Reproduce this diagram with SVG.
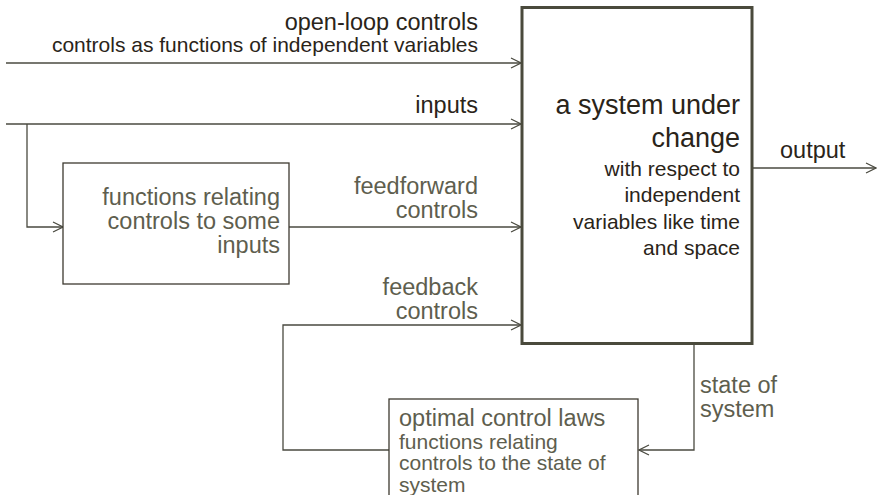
<svg xmlns="http://www.w3.org/2000/svg" width="877" height="495" viewBox="0 0 877 495">
<defs>
<marker id="arr" markerWidth="12" markerHeight="12" refX="11" refY="6" orient="auto" markerUnits="userSpaceOnUse">
<path d="M1,1 L11,6 L1,11" fill="none" stroke="#4a4a40" stroke-width="1.2"/>
</marker>
<style>
text{font-family:"Liberation Sans",Arial,sans-serif;}
.dk{fill:#2a2419;}
.gr{fill:#5e5e4e;}
.l{font-size:23.5px;}
.s{font-size:21px;}
.t{font-size:27px;}
.c{fill:none;stroke:#4a4a40;stroke-width:1.3;}
.box{fill:#fff;stroke:#3e3a30;stroke-width:1.3;}
</style>
</defs>
<rect width="877" height="495" fill="#fff"/>
<g id="connectors">
<path class="c" d="M6 63 H521" marker-end="url(#arr)"/>
<path class="c" d="M6 124 H521" marker-end="url(#arr)"/>
<path class="c" d="M27 124 V227 H63" marker-end="url(#arr)"/>
<path class="c" d="M289 227 H521" marker-end="url(#arr)"/>
<path class="c" d="M389 450 H283 V325 H521" marker-end="url(#arr)"/>
<path class="c" d="M694 344 V450 H639" marker-end="url(#arr)"/>
<path class="c" d="M752 168 H876" marker-end="url(#arr)"/>
</g>
<g id="labels">
<text class="l dk" x="478" y="29.5" text-anchor="end">open-loop controls</text>
<text class="s dk" x="478" y="52" text-anchor="end">controls as functions of independent variables</text>
<text class="l dk" x="478" y="113" text-anchor="end">inputs</text>
<text class="l gr" x="478" y="194" text-anchor="end">feedforward</text>
<text class="l gr" x="478" y="218" text-anchor="end">controls</text>
<text class="l gr" x="478" y="295" text-anchor="end">feedback</text>
<text class="l gr" x="478" y="319" text-anchor="end">controls</text>
<text class="l dk" x="780" y="158">output</text>
<text class="l gr" x="700" y="393">state of</text>
<text class="l gr" x="700" y="417">system</text>
</g>
<g id="system">
<rect x="522" y="7.5" width="230" height="336" fill="#fff" stroke="#4a4a3c" stroke-width="3"/>
<text class="t dk" x="740" y="114" text-anchor="end">a system under</text>
<text class="t dk" x="740" y="147" text-anchor="end">change</text>
<text class="s dk" x="740" y="176" text-anchor="end">with respect to</text>
<text class="s dk" x="740" y="202" text-anchor="end">independent</text>
<text class="s dk" x="740" y="228.5" text-anchor="end">variables like time</text>
<text class="s dk" x="740" y="255" text-anchor="end">and space</text>
</g>
<g id="feedforward-functions">
<rect class="box" x="63" y="163" width="226" height="121"/>
<text class="l gr" x="280" y="204.5" text-anchor="end">functions relating</text>
<text class="l gr" x="280" y="228.5" text-anchor="end">controls to some</text>
<text class="l gr" x="280" y="252.5" text-anchor="end">inputs</text>
</g>
<g id="optimal-control-laws">
<rect class="box" x="389" y="399" width="249" height="110"/>
<text class="l gr" x="399" y="426">optimal control laws</text>
<text class="s gr" x="399" y="448.5">functions relating</text>
<text class="s gr" x="399" y="470">controls to the state of</text>
<text class="s gr" x="399" y="491.5">system</text>
</g>
</svg>
